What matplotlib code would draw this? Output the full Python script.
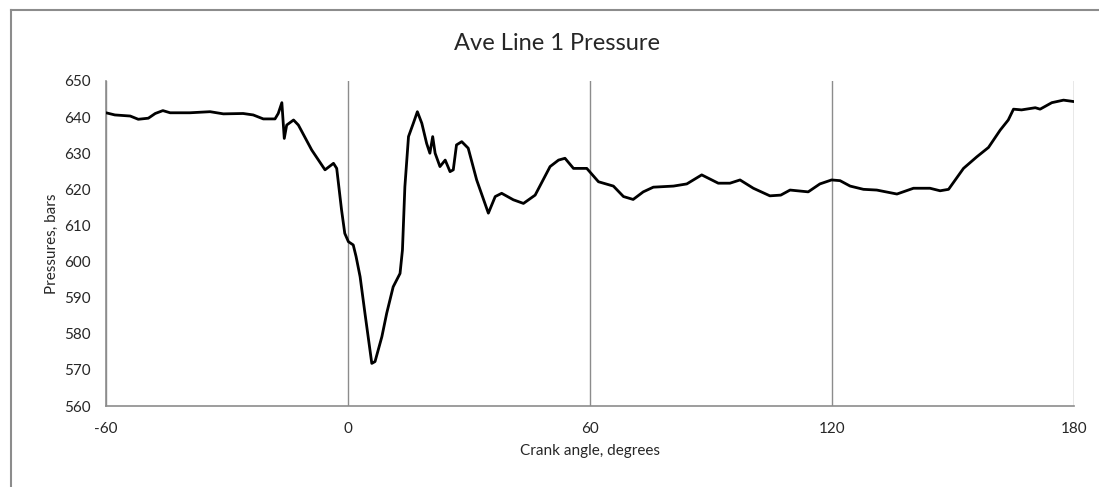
import matplotlib
matplotlib.use("Agg")
import matplotlib.pyplot as plt
from matplotlib.lines import Line2D

# Crank angle (degrees) and averaged line pressure (bars)
crank_angle = [
    -60.0, -57.8, -54.0, -52.0, -49.5, -47.8, -45.9, -44.1, -39.2, -34.2,
    -30.9, -26.0, -23.5, -21.0, -18.1, -17.3, -16.4, -15.8, -15.2, -13.5,
    -12.3, -9.0, -5.7, -3.6, -2.8, -1.6, -0.8, 0.1, 1.3, 2.0,
    3.0, 4.2, 5.9, 6.7, 8.4, 9.6, 11.2, 12.9, 13.5, 14.1,
    15.0, 16.2, 17.2, 18.3, 19.5, 20.3, 21.0, 21.6, 22.8, 24.1,
    25.3, 26.1, 26.9, 28.2, 29.8, 31.9, 34.8, 36.5, 38.1, 41.0,
    43.5, 46.4, 50.1, 52.2, 53.8, 55.9, 59.2, 62.1, 65.8, 68.3,
    70.7, 73.2, 75.7, 80.7, 84.0, 87.7, 91.8, 94.7, 97.2, 100.5,
    104.6, 107.3, 109.6, 114.1, 117.0, 119.9, 122.0, 124.5, 127.8, 131.1,
    136.1, 140.2, 144.3, 146.8, 148.9, 152.6, 155.9, 158.8, 161.7, 163.7,
    165.0, 167.0, 170.4, 171.6, 174.5, 177.4, 180.0,
]
pressure = [
    641.2, 640.6, 640.3, 639.4, 639.7, 641.0, 641.8, 641.2, 641.2, 641.5,
    640.9, 641.0, 640.6, 639.5, 639.5, 641.0, 644.0, 634.1, 637.8, 639.2,
    637.8, 630.9, 625.4, 627.2, 625.8, 614.3, 607.8, 605.5, 604.6, 601.4,
    595.8, 585.7, 571.8, 572.3, 579.2, 585.7, 593.0, 596.7, 603.2, 620.7,
    634.6, 638.3, 641.5, 638.3, 632.7, 630.0, 634.6, 630.0, 626.3, 628.1,
    624.9, 625.4, 632.3, 633.2, 631.4, 622.6, 613.4, 618.0, 618.9, 617.1,
    616.1, 618.4, 626.3, 628.1, 628.6, 625.8, 625.8, 622.1, 620.9, 618.0,
    617.2, 619.3, 620.6, 620.9, 621.5, 624.0, 621.7, 621.7, 622.6, 620.3,
    618.2, 618.4, 619.8, 619.3, 621.5, 622.6, 622.4, 620.9, 620.0, 619.8,
    618.7, 620.3, 620.3, 619.6, 620.0, 625.8, 629.0, 631.6, 636.4, 639.2,
    642.2, 642.0, 642.6, 642.2, 644.0, 644.7, 644.3,
]

x_ticks = [-60, 0, 60, 120, 180]
y_ticks = [560, 570, 580, 590, 600, 610, 620, 630, 640, 650]

plt.rcParams["font.family"] = ["Lato", "DejaVu Sans"]
plt.rcParams["axes.unicode_minus"] = False
text_color = "#262626"
axis_gray = "#8c8c8c"

fig = plt.figure(figsize=(10.99, 4.87), dpi=100)
ax = fig.add_axes([106 / 1099, 1 - 406 / 487, (1074 - 106) / 1099, (406 - 81) / 487])

ax.plot(crank_angle, pressure, color="black", linewidth=2.0,
        solid_joinstyle="round", solid_capstyle="round", zorder=3)

ax.set_xlim(-60, 180)
ax.set_ylim(560, 650)
ax.set_xticks(x_ticks)
ax.set_yticks(y_ticks)
ax.tick_params(length=0, labelsize=11, labelcolor=text_color)
ax.tick_params(axis="x", pad=11.5)
ax.tick_params(axis="y", pad=10.8)

ax.grid(axis="x", color=axis_gray, linewidth=1.0)
ax.set_axisbelow(True)
for side in ("top", "right"):
    ax.spines[side].set_visible(False)
for side in ("left", "bottom"):
    ax.spines[side].set_color(axis_gray)
    ax.spines[side].set_linewidth(1.2)

ax.set_xlabel("Crank angle, degrees", fontsize=11, color=text_color, labelpad=6)
ax.set_ylabel("Pressures, bars", fontsize=11, color=text_color, labelpad=4)

fig.text(557 / 1099, 1 - 43 / 487, "Ave Line 1 Pressure", fontsize=17,
         color=text_color, ha="center", va="center")

# Chart frame (left and top edges)
fig.add_artist(Line2D([11 / 1099, 11 / 1099], [0, 1 - 10 / 487],
                      transform=fig.transFigure, color=axis_gray, linewidth=1.5))
fig.add_artist(Line2D([11 / 1099, 1], [1 - 10 / 487, 1 - 10 / 487],
                      transform=fig.transFigure, color=axis_gray, linewidth=1.5))

fig.savefig("out.png", dpi=100)
